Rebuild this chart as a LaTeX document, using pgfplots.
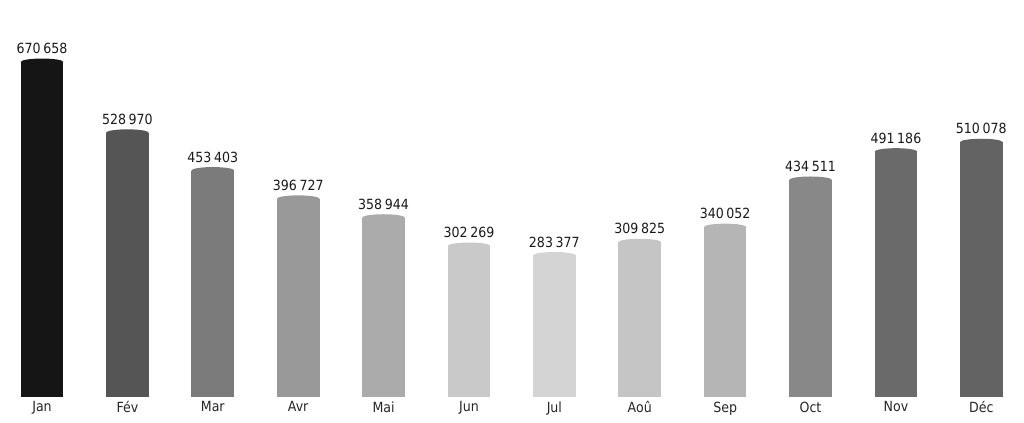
\documentclass[border=0pt]{standalone}
\usepackage{pgfplots}
\pgfplotsset{compat=1.18}
\usepackage{fontspec}
\setmainfont{DejaVu Sans Condensed}

% rounded top of each bar
\pgfdeclareplotmark{cap}{%
  \pgfpathellipse{\pgfpointorigin}{\pgfqpoint{\pgfplotmarksize}{0pt}}{\pgfqpoint{0pt}{2.6pt}}%
  \pgfusepathqfill}

\definecolor{c1}{HTML}{151515}
\definecolor{c2}{HTML}{555555}
\definecolor{c3}{HTML}{7B7B7B}
\definecolor{c4}{HTML}{999999}
\definecolor{c5}{HTML}{ABABAB}
\definecolor{c6}{HTML}{C9C9C9}
\definecolor{c7}{HTML}{D4D4D4}
\definecolor{c8}{HTML}{C5C5C5}
\definecolor{c9}{HTML}{B5B5B5}
\definecolor{c10}{HTML}{888888}
\definecolor{c11}{HTML}{6A6A6A}
\definecolor{c12}{HTML}{636363}

\pgfplotsset{
  month/.style={
    ybar, bar width=32pt, bar shift=0pt, draw=none, fill=#1,
    mark=cap, mark size=16pt, mark options={fill=#1, draw=none},
  },
}

\begin{document}
\begin{tikzpicture}
\useasboundingbox (0,-18.75pt) rectangle (768pt,297.75pt);
\begin{axis}[
    at={(0,0)}, anchor=south west,
    scale only axis,
    width=768pt, height=297.75pt,
    xmin=-0.492, xmax=11.5,
    ymin=0, ymax=794780,
    axis line style={draw=none},
    major tick length=0pt,
    ytick=\empty,
    xtick={0,...,11},
    xticklabels={Jan,Fév,Mar,Avr,Mai,Jun,Jul,Aoû,Sep,Oct,Nov,Déc},
    xticklabel style={font=\fontsize{10.5}{12}\selectfont, text=black!85, yshift=0pt},
    nodes near coords={\pgfmathprintnumber[fixed, precision=0, 1000 sep={\kern2pt}]{\pgfplotspointmeta}},
    nodes near coords style={font=\fontsize{10.5}{12}\selectfont, text=black!90, anchor=south, yshift=2.5pt},
    /pgf/number format/assume math mode=true,
    clip=false,
  ]
\addplot[month=c1]  coordinates {(0,670658)};
\addplot[month=c2]  coordinates {(1,528970)};
\addplot[month=c3]  coordinates {(2,453403)};
\addplot[month=c4]  coordinates {(3,396727)};
\addplot[month=c5]  coordinates {(4,358944)};
\addplot[month=c6]  coordinates {(5,302269)};
\addplot[month=c7]  coordinates {(6,283377)};
\addplot[month=c8]  coordinates {(7,309825)};
\addplot[month=c9]  coordinates {(8,340052)};
\addplot[month=c10] coordinates {(9,434511)};
\addplot[month=c11] coordinates {(10,491186)};
\addplot[month=c12] coordinates {(11,510078)};
\end{axis}
\end{tikzpicture}
\end{document}
